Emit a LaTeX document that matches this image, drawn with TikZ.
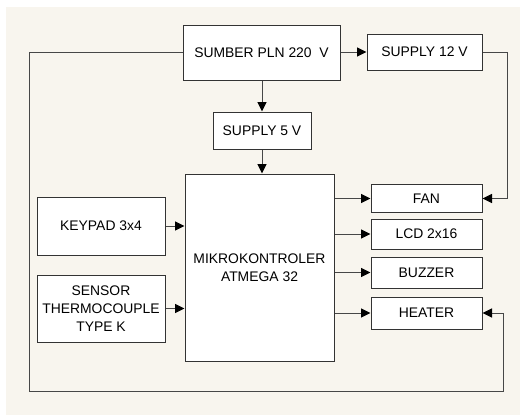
\documentclass[tikz,border=0pt]{standalone}
\usepackage{fontspec}
\setmainfont{Liberation Sans}
\usetikzlibrary{arrows.meta}
\definecolor{bg}{HTML}{F8F5EE}
\definecolor{ln}{HTML}{333333}
\begin{document}
\begin{tikzpicture}[x=1pt,y=-1pt,
  blk/.style={draw=ln, line width=1pt, fill=white, inner sep=0pt, align=center,
    font=\fontsize{13.9}{18.3}\selectfont, text=black},
  conn/.style={draw=ln!90, line width=1pt, -{Triangle[length=9.5pt,width=9pt,fill=black,color=black]}},
  wire/.style={draw=ln!90, line width=1pt}]
\useasboundingbox (0,0) rectangle (520,415);
\fill[white] (0,0) rectangle (520,415);
\fill[bg] (6,7) rectangle (520,415);
% boxes: centers and sizes from reference pixels
\node[blk, minimum width=157, minimum height=55] (pln) at (261.5,52.5) {SUMBER PLN 220\ \ V};
\node[blk, minimum width=115, minimum height=36] (s12) at (424.5,52) {SUPPLY 12 V};
\node[blk, minimum width=98, minimum height=37] (s5) at (262,130.5) {SUPPLY 5 V};
\node[blk, minimum width=149, minimum height=187] (mcu) at (259.5,267.5) {MIKROKONTROLER\\ATMEGA 32};
\node[blk, minimum width=128, minimum height=58] (key) at (101,226) {KEYPAD 3x4};
\node[blk, minimum width=128, minimum height=67] (sen) at (101,308.5) {SENSOR\\THERMOCOUPLE\\TYPE K};
\node[blk, minimum width=111, minimum height=28] (fan) at (426.5,198.5) {FAN};
\node[blk, minimum width=111, minimum height=30] (lcd) at (426.5,234) {LCD 2x16};
\node[blk, minimum width=111, minimum height=31] (buz) at (426.5,272.5) {BUZZER};
\node[blk, minimum width=111, minimum height=32] (hea) at (426.5,313) {HEATER};
% coordinates for bends
\coordinate (c1) at (29,52.5);
\coordinate (c2) at (29,391);
\coordinate (c3) at (503,391);
\coordinate (c4) at (503,313);
\coordinate (d1) at (507,52);
\coordinate (d2) at (507,198.5);
% connectors
\draw[conn] (pln.east |- s12.west) -- (s12.west);
\draw[conn] (pln.south -| s5.north) -- (s5.north);
\draw[conn] (s5.south) -- (s5.south |- mcu.north);
\draw[conn] (key.east) -- (key.east -| mcu.west);
\draw[conn] (sen.east) -- (sen.east -| mcu.west);
\draw[conn] (mcu.east |- fan.west) -- (fan.west);
\draw[conn] (mcu.east |- lcd.west) -- (lcd.west);
\draw[conn] (mcu.east |- buz.west) -- (buz.west);
\draw[conn] (mcu.east |- hea.west) -- (hea.west);
\draw[conn] (s12.east) -- (d1) -- (d2) -- (fan.east);
\draw[conn] (pln.west) -- (c1) -- (c2) -- (c3) -- (c4) -- (hea.east);
\end{tikzpicture}
\end{document}
